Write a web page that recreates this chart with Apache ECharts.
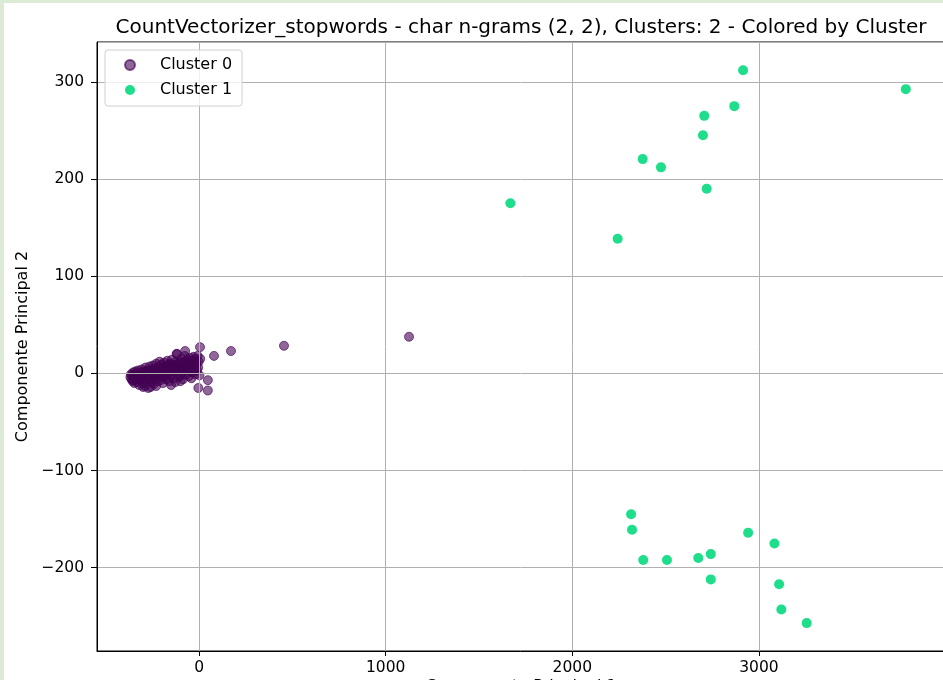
<!DOCTYPE html>
<html>
<head>
<meta charset="utf-8">
<script src="https://cdn.jsdelivr.net/npm/echarts@6/dist/echarts.min.js"></script>
<style>
html,body{margin:0;padding:0;width:943px;height:680px;overflow:hidden;background:#dcecd4;}
#c{position:absolute;left:4px;top:3px;width:939px;height:677px;background:#ffffff;}
</style>
</head>
<body>
<div id="c"></div>
<script>
var titleText = 'CountVectorizer_stopwords - char n-grams (2, 2), Clusters: 2 - Colored by Cluster';
var xName = 'Componente Principal 1';
var yName = 'Componente Principal 2';
var seriesNames = ['Cluster 0', 'Cluster 1'];

var cluster0 = [
  [-368,-4],[-365,-1],[-362,-6],[-358,-2],[-356,-8],[-353,1],[-350,-4],[-347,-10],[-344,-1],[-341,2],[-339,-6],
  [-336,-3],[-333,-9],[-330,0],[-327,3],[-324,-5],[-320,-12],[-318,-2],[-315,1],[-312,-7],[-308,4],[-305,-3],[-302,-10],[-300,0],
  [-296,-5],[-293,2],[-290,-13],[-287,6],[-284,-2],[-281,-8],[-278,3],[-275,-4],[-272,-15],[-270,1],[-266,7],[-263,-6],[-260,-1],
  [-257,4],[-254,-9],[-251,0],[-248,8],[-245,-3],[-242,-11],[-239,2],[-236,5],[-233,-5],[-230,10],[-227,-1],[-224,-8],[-221,3],
  [-218,7],[-215,-3],[-212,12],[-209,0],[-206,-7],[-203,5],[-200,9],[-197,-2],[-194,-10],[-191,3],[-188,11],[-185,-4],[-182,6],
  [-179,1],[-176,-6],[-173,8],[-170,13],[-167,-1],[-164,4],[-161,-8],[-158,10],[-155,2],[-152,-3],[-149,7],[-146,14],[-143,0],
  [-140,5],[-137,-5],[-134,9],[-131,2],[-128,-9],[-125,12],[-122,6],[-119,20],[-116,0],[-113,8],[-110,-4],[-107,3],[-104,11],
  [-101,6],[-98,-2],[-95,15],[-92,9],[-89,1],[-86,-6],[-83,12],[-80,4],[-77,18],[-74,7],[-71,-1],[-68,10],[-65,3],
  [-62,14],[-59,6],[-56,-3],[-53,9],[-50,16],[-47,2],[-44,11],[-41,-5],[-38,7],[-35,13],[-32,1],[-29,9],[-26,4],
  [-23,15],[-20,-1],[-17,8],[-14,11],[-11,3],[-8,18],[-5,6],[-2,12],[2,-2],
  [-350,-7],[-330,-6],[-310,-4],[-290,-1],[-270,-3],[-250,3],[-230,1],[-210,4],[-190,6],[-170,5],[-150,9],[-130,6],[-110,10],[-90,7],[-70,12],
  [-75,23],[-120,20],[-30,17],[5,27],[6,15],[-4,-15],[47,-17.6],[47,-7],[80,18],[171,23],[455,28.4],[1125,37.7],
  [-150,-12],[-260,-14],[-230,-13],[-300,-14],[-100,-8]
];

var cluster1 = [
  [2915,312],[3787,292.5],[2868,275],[2707,265],[2700,245],[2377,220.5],[2475,212],[2720,190],[1668,175],[2243,138.5],
  [2315,-145],[2320,-161],[2380,-192],[2507,-192],[2675,-190],[2742,-186],[2942,-164],[3083,-175],[2742,-212],[3108,-217],
  [3120,-243],[3256,-257]
];

function fmt(v) {
  var s = String(Math.round(v));
  return s.replace('-', '\u2212');
}

var chart = echarts.init(document.getElementById('c'));
var font = 'DejaVu Sans';
chart.setOption({
  animation: false,
  title: {
    text: titleText,
    left: 512,
    top: 10,
    textAlign: 'center',
    textStyle: {fontFamily: font, fontSize: 20, fontWeight: 'normal', color: '#000'}
  },
  legend: {
    orient: 'vertical',
    left: 101,
    top: 47,
    padding: [5, 10, 6, 19],
    itemGap: 5,
    itemWidth: 50,
    itemHeight: 10,
    icon: 'circle',
    backgroundColor: 'rgba(255,255,255,0.8)',
    borderColor: '#d0d0d0',
    borderWidth: 1,
    borderRadius: 3,
    textStyle: {fontFamily: font, fontSize: 16, color: '#000', lineHeight: 20},
    data: seriesNames
  },
  grid: {
    left: 93, top: 39, right: -2, bottom: 29,
    containLabel: false,
    outerBoundsMode: 'none',
    show: true, borderColor: '#000', borderWidth: 1, backgroundColor: 'transparent'
  },
  xAxis: {
    type: 'value',
    min: -547, max: 3997,
    splitNumber: 5,
    name: xName,
    nameLocation: 'middle',
    nameGap: 28,
    nameMoveOverlap: false,
    nameTextStyle: {fontFamily: font, fontSize: 16, color: '#000', verticalAlign: 'top'},
    axisLine: {show: true, onZero: false, lineStyle: {color: '#000', width: 1}},
    axisTick: {show: true, length: 5, lineStyle: {color: '#000'}},
    axisLabel: {fontFamily: font, fontSize: 15.5, color: '#000', margin: 9, showMinLabel: false, showMaxLabel: false, formatter: fmt},
    splitLine: {show: true, lineStyle: {color: '#b0b0b0', width: 1}}
  },
  yAxis: {
    type: 'value',
    min: -285.7, max: 341,
    splitNumber: 6,
    name: yName,
    nameLocation: 'middle',
    nameGap: 66,
    nameTextStyle: {fontFamily: font, fontSize: 16, color: '#000'},
    axisLine: {show: true, onZero: false, lineStyle: {color: '#000', width: 1}},
    axisTick: {show: true, length: 6, lineStyle: {color: '#000'}},
    axisLabel: {fontFamily: font, fontSize: 15.5, color: '#000', margin: 13, showMinLabel: false, showMaxLabel: false, formatter: fmt},
    splitLine: {show: true, lineStyle: {color: '#b0b0b0', width: 1}}
  },
  series: [
    {
      name: seriesNames[0],
      type: 'scatter',
      z: -1,
      symbolSize: 9,
      data: cluster0,
      itemStyle: {color: 'rgba(68,1,84,0.6)', borderColor: 'rgba(68,1,84,0.65)', borderWidth: 1, opacity: 1}
    },
    {
      name: seriesNames[1],
      type: 'scatter',
      z: -1,
      symbolSize: 10,
      data: cluster1,
      itemStyle: {color: '#1edd8b', opacity: 1}
    }
  ]
});
</script>
</body>
</html>
